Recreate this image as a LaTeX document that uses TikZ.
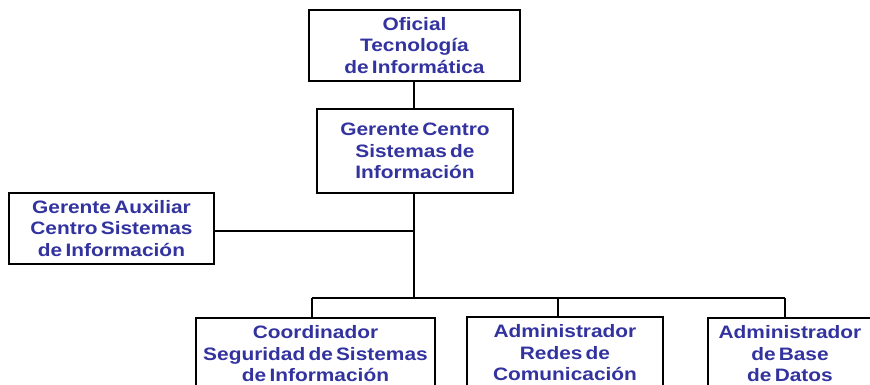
\documentclass[tikz,border=0pt]{standalone}
\usepackage{fontspec}
\setmainfont{Liberation Sans}[FakeStretch=1.16,WordSpace=0.55]
\definecolor{txtblue}{RGB}{51,51,160}
\begin{document}
\begin{tikzpicture}[x=1pt,y=-1pt,
  orgbox/.style={draw=black,line width=1.4pt,fill=white,inner sep=0pt,
    align=center,text=txtblue,font=\bfseries\fontsize{18}{21.5}\selectfont},
  link/.style={draw=black,line width=1.5pt}]
\useasboundingbox (0,0) rectangle (870,385);
\clip (0,0) rectangle (870,385);
\node[orgbox,minimum width=211pt,minimum height=71pt] (b1) at (414.5,45.5) {Oficial\\Tecnología\\de Informática};
\node[orgbox,minimum width=196pt,minimum height=84pt] (b2) at (415,151) {Gerente Centro\\Sistemas de\\Información};
\node[orgbox,minimum width=205pt,minimum height=71pt] (b3) at (111.5,228.5) {Gerente Auxiliar\\Centro Sistemas\\de Información};
\node[orgbox,minimum width=239pt,minimum height=72pt] (b4) at (315.5,354) {Coordinador\\Seguridad de Sistemas\\de Información};
\node[orgbox,minimum width=196pt,minimum height=72pt] (b5) at (565,353) {Administrador\\Redes de\\Comunicación};
\node[orgbox,minimum width=164pt,minimum height=72pt] (b6) at (790,354) {Administrador\\de Base\\de Datos};
\coordinate (bus) at (414,298);
\coordinate (j3) at (414,231);
\coordinate (d4) at (312,298);
\coordinate (d5) at (558,298);
\coordinate (d6) at (785,298);
\draw[link] (b1.south -| bus) -- (b2.north -| bus);
\draw[link] (b2.south -| bus) -- (bus);
\draw[link] (j3 -| b3.east) -- (j3);
\draw[link] (d4) -- (d6);
\draw[link] (d4) -- (d4 |- b4.north);
\draw[link] (d5) -- (d5 |- b5.north);
\draw[link] (d6) -- (d6 |- b6.north);
\end{tikzpicture}
\end{document}
